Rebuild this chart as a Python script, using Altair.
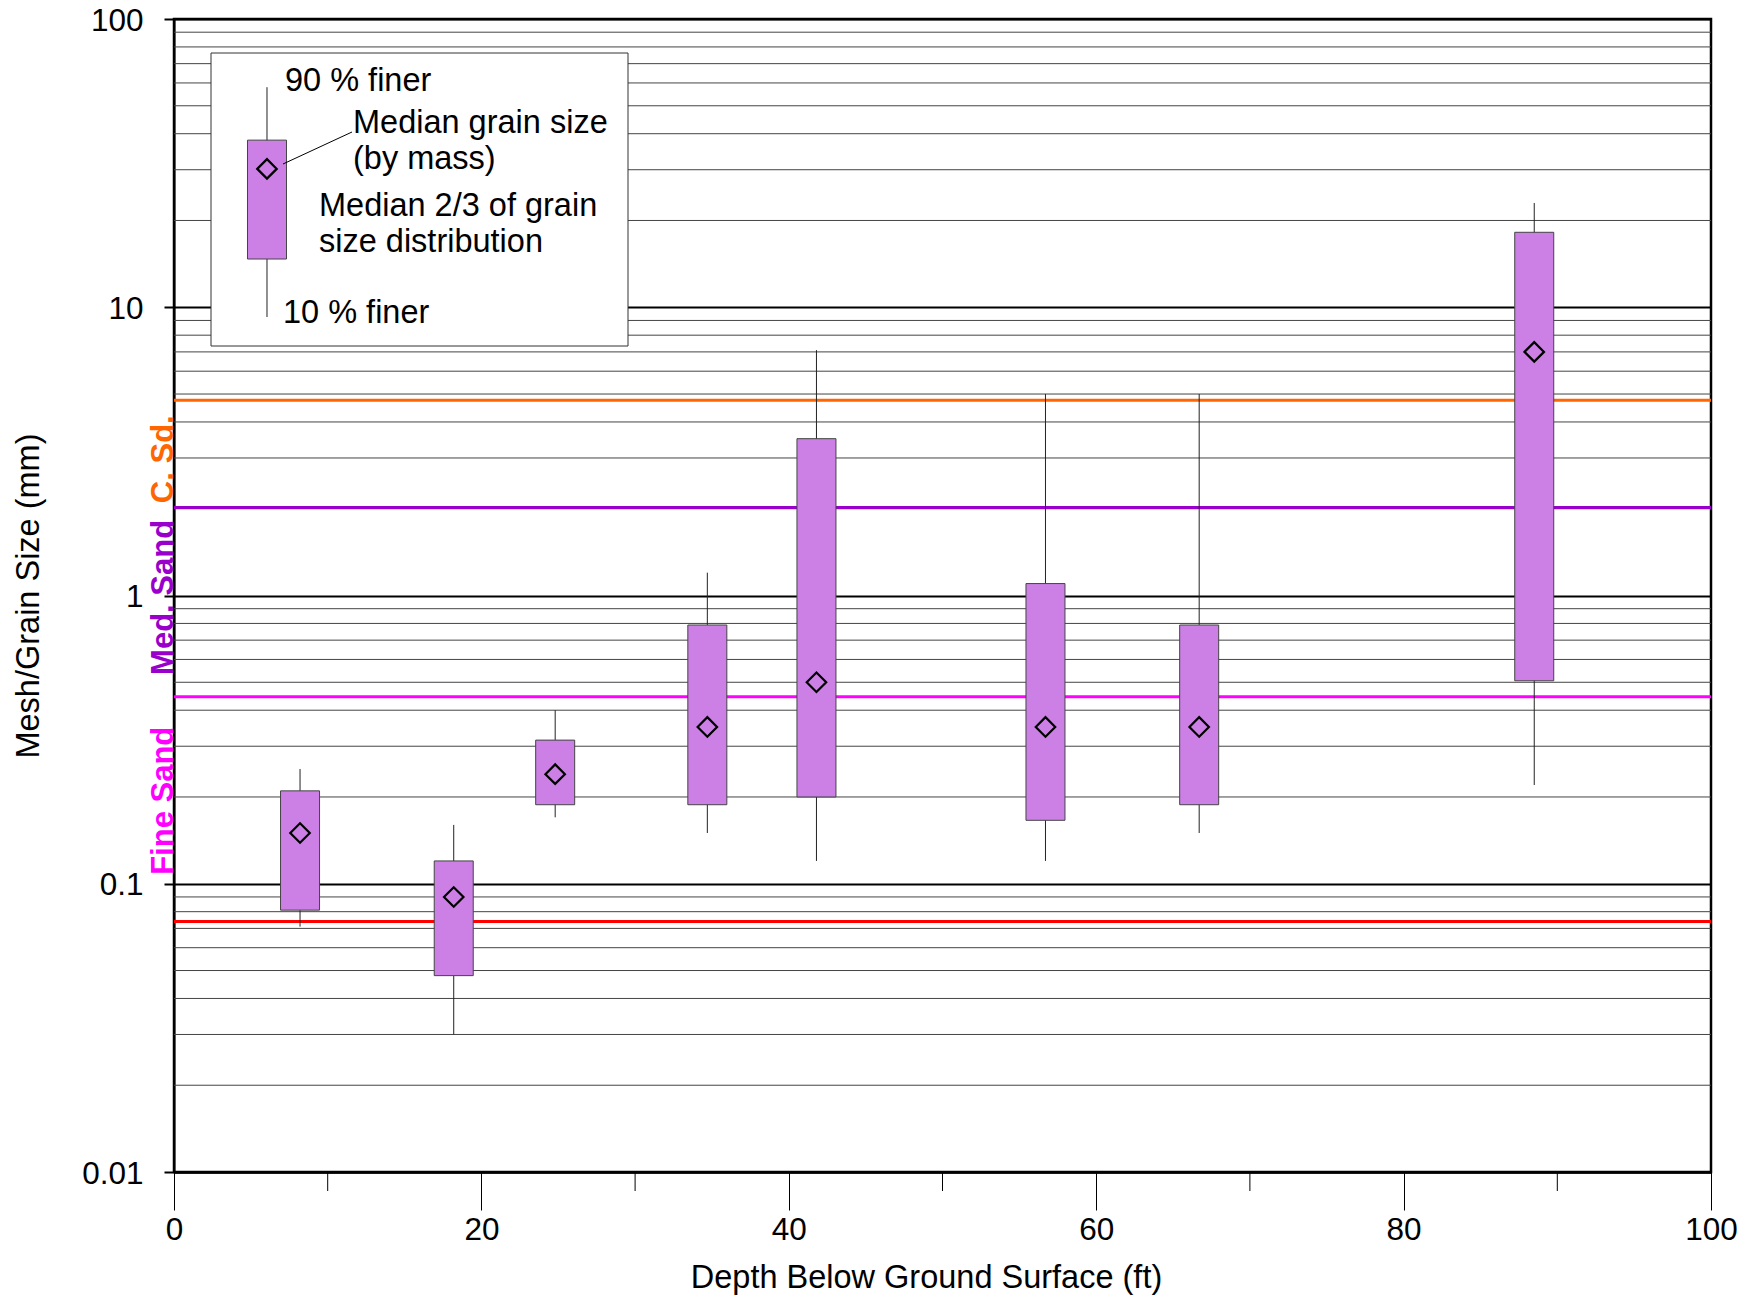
import altair as alt
import pandas as pd

# ---- data ----
depth = [8.2, 18.2, 24.8, 34.7, 41.8, 56.7, 66.7, 88.5]
d90 = [0.25, 0.16, 0.40, 1.2, 7.1, 5.0, 5.0, 23.0]
q_high = [0.21, 0.12, 0.315, 0.79, 3.5, 1.1, 0.79, 18.2]
d50 = [0.15, 0.09, 0.24, 0.35, 0.50, 0.35, 0.35, 7.0]
q_low = [0.081, 0.048, 0.188, 0.188, 0.20, 0.166, 0.188, 0.506]
d10 = [0.071, 0.030, 0.17, 0.15, 0.12, 0.12, 0.15, 0.22]

# key (legend) sample box, in data units
key_depth = [6.05]
key_d90 = [58.0]
key_q_high = [38.0]
key_d50 = [30.2]
key_q_low = [14.7]
key_d10 = [9.25]

sieve_sizes = [4.76, 2.02, 0.445, 0.074]
sieve_colors = ["#FF6600", "#9900CC", "#FF00FF", "#FF0000"]

band_names = ["C. Sd.", "Med. Sand", "Fine Sand"]
band_label_y = [2.97, 0.985, 0.194]
band_colors = ["#FF6600", "#9900CC", "#FF00FF"]

y_major = [0.01, 0.1, 1, 10, 100]
y_minor = [round(m * d, 4) for d in (0.01, 0.1, 1, 10) for m in range(2, 10)]
x_major = [0, 20, 40, 60, 80, 100]
x_minor = [10, 30, 50, 70, 90]

key_labels = ["90 % finer", "Median grain size", "(by mass)",
              "Median 2/3 of grain", "size distribution", "10 % finer"]
key_label_x = [111, 179, 179, 145, 145, 109]
key_label_y = [72, 114, 150, 197, 233, 304]

# ---- layout ----
W, H = 1537, 1153
FONT = "Liberation Sans"

xscale = alt.Scale(domain=[0, 100], nice=False, zero=False, padding=0)
yscale = alt.Scale(type="log", domain=[0.01, 100], nice=False, padding=0)

xaxis = alt.Axis(values=x_major, tickSize=38, tickWidth=1, tickColor="black",
                 labelFontSize=31.5, labelPadding=4, labelColor="black", labelFlush=False,
                 grid=False, domainColor="black", domainWidth=2.5,
                 title="Depth Below Ground Surface (ft)", titleFontSize=32.5,
                 titleFontWeight="normal", titleColor="black",
                 titleX=752, titleY=115, titleBaseline="alphabetic", titleAlign="center")

yaxis = alt.Axis(values=y_major, format="~g", tickSize=10, tickWidth=2, tickColor="black",
                 labelFontSize=31.5, labelPadding=21, labelColor="black", labelFlush=False,
                 labelOverlap=False, labelOffset=2,
                 grid=True, gridColor="black", gridWidth=2,
                 domainColor="black", domainWidth=2,
                 title="Mesh/Grain Size (mm)", titleFontSize=32.5, titleFontWeight="normal",
                 titleColor="black", titleX=-136, titleY=H / 2, titleAngle=270,
                 titleBaseline="alphabetic", titleAlign="center")

samples = pd.DataFrame(dict(depth=depth, d90=d90, q_high=q_high, d50=d50, q_low=q_low, d10=d10))
key = pd.DataFrame(dict(depth=key_depth, d90=key_d90, q_high=key_q_high, d50=key_d50,
                        q_low=key_q_low, d10=key_d10))
one = pd.DataFrame({"a": [0]})


def X(field):
    return alt.X(field, scale=xscale, axis=xaxis)


def Y(field):
    return alt.Y(field, scale=yscale, axis=yaxis)


minor_grid = alt.Chart(pd.DataFrame({"v": y_minor})).mark_rule(
    color="#444444", strokeWidth=1).encode(y=Y("v:Q"))

minor_xticks = alt.Chart(pd.DataFrame({"v": x_minor})).mark_rule(
    color="black", strokeWidth=1).encode(
    x=X("v:Q"), y=alt.value(H), y2=alt.value(H + 19))

sieves = alt.Chart(pd.DataFrame({"v": sieve_sizes, "c": sieve_colors})).mark_rule(
    strokeWidth=3).encode(
    y=Y("v:Q"),
    color=alt.Color("c:N", scale=None))

bands = alt.Chart(pd.DataFrame({"t": band_names, "v": band_label_y, "c": band_colors})).mark_text(
    angle=270, align="center", baseline="alphabetic", fontSize=31, fontWeight="bold",
    font=FONT).encode(
    x=alt.value(-1),
    y=Y("v:Q"),
    text="t:N",
    color=alt.Color("c:N", scale=None))

key_box = alt.Chart(one).mark_rect(fill="white", stroke="#333333", strokeWidth=1).encode(
    x=alt.value(37), x2=alt.value(454), y=alt.value(34), y2=alt.value(327))


def glyphs(df):
    base = alt.Chart(df)
    whisk = base.mark_rule(color="#222222", strokeWidth=1).encode(
        x=X("depth:Q"), y=Y("d10:Q"), y2="d90:Q")
    box = base.mark_bar(size=39, fill="#CC80E6", stroke="#444444", strokeWidth=1).encode(
        x=X("depth:Q"), y=Y("q_low:Q"), y2="q_high:Q")
    med = base.mark_point(shape="diamond", size=380, filled=False, color="black",
                          strokeWidth=2.2, opacity=1).encode(
        x=X("depth:Q"), y=Y("d50:Q"))
    return [whisk, box, med]


leader = alt.Chart(one).mark_rule(color="black", strokeWidth=1).encode(
    x=alt.value(109), y=alt.value(145), x2=alt.value(178), y2=alt.value(113))

key_texts = [
    alt.Chart(one).mark_text(align="left", baseline="alphabetic", fontSize=32.5,
                             font=FONT, color="black").encode(
        x=alt.value(px), y=alt.value(py), text=alt.value(t))
    for t, px, py in zip(key_labels, key_label_x, key_label_y)
]

layers = ([minor_grid, minor_xticks, sieves, bands, key_box]
          + glyphs(samples) + glyphs(key) + [leader] + key_texts)

chart = alt.layer(*layers).properties(
    width=W, height=H,
    padding={"left": 166, "top": 11, "right": 31, "bottom": 125},
    autosize=alt.AutoSizeParams(type="none"),
).configure(font=FONT).configure_view(stroke="black", strokeWidth=2.5)

chart.save("out.html", embed_options={"renderer": "svg", "actions": False})
